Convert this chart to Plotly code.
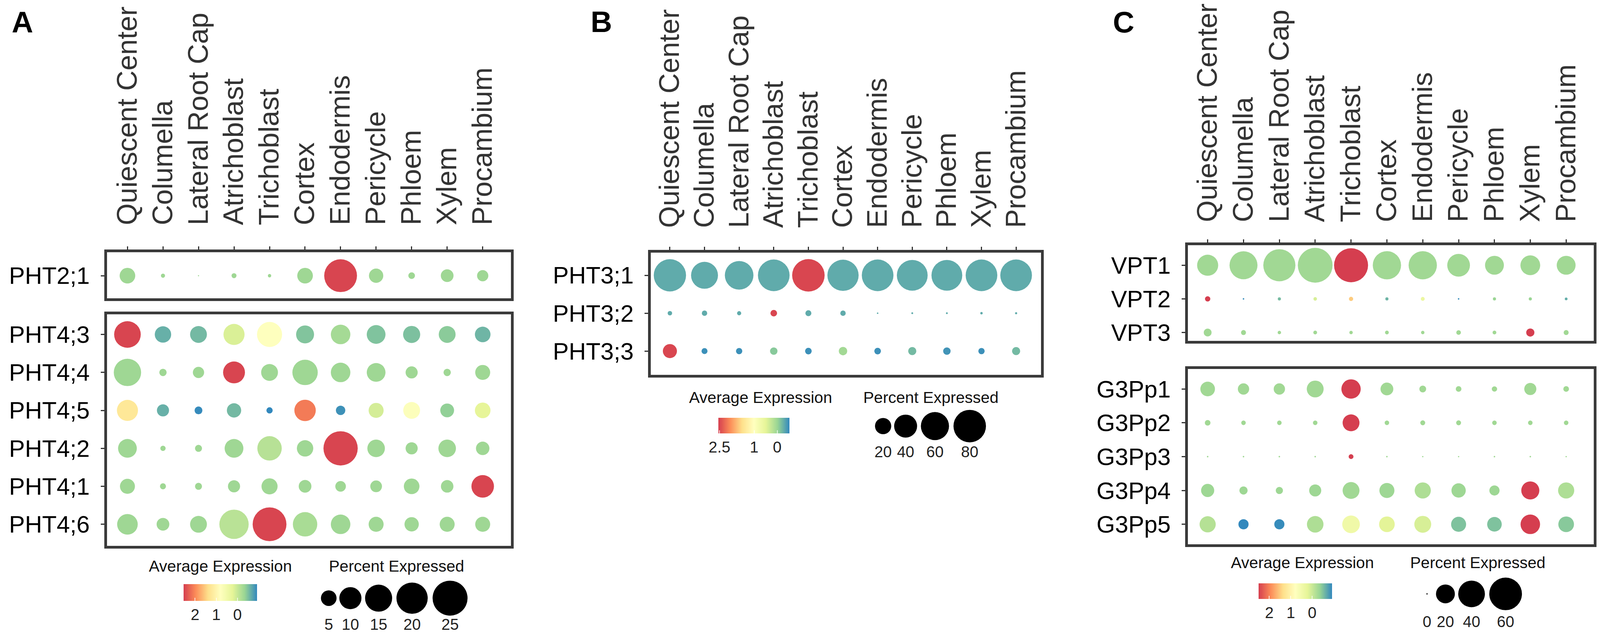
import plotly.graph_objects as go

W, H = 4410, 1634          # reference geometry (pixels) used for all placements
FONT = "Liberation Sans, Arial, Helvetica, sans-serif"
BOX = "#3a3a3a"
LW = 7

# ---------------- data ----------------
cell_types = ["Quiescent Center", "Columella", "Lateral Root Cap", "Atrichoblast",
              "Trichoblast", "Cortex", "Endodermis", "Pericycle", "Phloem", "Xylem",
              "Procambium"]

# Panel A (top block)
genes_A1 = ["PHT2;1"]
pct_A1 = [[5.0, 0.35, 0.03, 0.5, 0.23, 5.0, 22.0, 4.2, 0.9, 3.3, 2.6]]
avg_A1 = [[-0.3, -0.3, -0.3, -0.3, -0.3, -0.3, 2.5, -0.3, -0.3, -0.3, -0.3]]

# Panel A (bottom block)
genes_A2 = ["PHT4;3", "PHT4;4", "PHT4;5", "PHT4;2", "PHT4;1", "PHT4;6"]
pct_A2 = [
    [14.5, 5.5, 5.8, 9.1, 12.9, 6.6, 7.8, 7.2, 6.0, 5.8, 5.0],
    [15.3, 1.1, 2.6, 9.8, 5.8, 13.2, 7.8, 7.2, 3.0, 1.1, 4.6],
    [9.1, 3.0, 1.25, 4.2, 0.8, 9.4, 1.8, 4.6, 5.8, 3.9, 5.0],
    [7.2, 0.57, 1.0, 7.2, 12.2, 5.5, 24.0, 6.3, 3.0, 6.3, 3.7],
    [4.6, 0.74, 1.0, 3.0, 5.3, 3.3, 2.3, 2.8, 5.0, 3.2, 10.4],
    [8.7, 3.3, 5.8, 17.6, 23.4, 12.2, 7.8, 4.6, 4.2, 4.6, 4.6],
]
avg_A2 = [
    [2.5, -0.62, -0.55, 0.15, 0.8, -0.47, -0.25, -0.48, -0.5, -0.42, -0.58],
    [-0.3, -0.3, -0.3, 2.5, -0.3, -0.3, -0.3, -0.3, -0.3, -0.3, -0.3],
    [1.25, -0.62, -0.9, -0.55, -0.92, 2.1, -0.85, 0.1, 0.75, -0.38, 0.25],
    [-0.3, -0.3, -0.3, -0.3, -0.12, -0.3, 2.5, -0.3, -0.3, -0.3, -0.3],
    [-0.3, -0.3, -0.3, -0.3, -0.3, -0.3, -0.3, -0.3, -0.3, -0.3, 2.5],
    [-0.3, -0.3, -0.3, -0.1, 2.5, -0.22, -0.3, -0.3, -0.3, -0.3, -0.3],
]

# Panel B
genes_B = ["PHT3;1", "PHT3;2", "PHT3;3"]
pct_B = [
    [79, 55, 62, 76, 80, 74, 76, 72, 72, 76, 76],
    [1.5, 2.2, 1.3, 3.3, 2.7, 2.2, 0.17, 0.25, 0.25, 0.43, 0.33],
    [15, 2.7, 3.0, 4.2, 3.3, 5.3, 3.3, 5.0, 4.2, 3.0, 5.0],
]
avg_B = [
    [-0.3, -0.3, -0.3, -0.3, 2.5, -0.3, -0.3, -0.3, -0.3, -0.3, -0.3],
    [-0.3, -0.3, -0.3, 2.5, -0.3, -0.3, -0.3, -0.3, -0.3, -0.3, -0.3],
    [2.5, -0.48, -0.48, -0.1, -0.48, 0.05, -0.48, -0.2, -0.45, -0.48, -0.2],
]

# Panel C (top block)
genes_C1 = ["VPT1", "VPT2", "VPT3"]
pct_C1 = [
    [25, 44, 58, 68, 65, 45, 45, 29, 20, 22, 20],
    [1.6, 0.13, 0.55, 0.7, 1.0, 0.55, 0.85, 0.13, 0.55, 0.55, 0.42],
    [3.5, 1.4, 0.65, 0.8, 0.65, 0.8, 0.65, 1.2, 0.8, 3.8, 1.4],
]
avg_C1 = [
    [-0.3, -0.3, -0.3, -0.3, 2.5, -0.3, -0.3, -0.3, -0.3, -0.3, -0.3],
    [2.5, -0.9, -0.55, 0.1, 1.5, -0.6, 0.35, -0.9, -0.35, -0.35, -0.65],
    [-0.3, -0.3, -0.3, -0.3, -0.3, -0.3, -0.3, -0.3, -0.3, 2.5, -0.3],
]

# Panel C (bottom block)
genes_C2 = ["G3Pp1", "G3Pp2", "G3Pp3", "G3Pp4", "G3Pp5"]
pct_C2 = [
    [12, 7.2, 7.2, 16, 21, 9.2, 2.6, 1.8, 1.6, 8.2, 1.8],
    [1.8, 1.15, 1.15, 1.15, 16, 1.15, 1.35, 1.35, 1.15, 1.15, 1.15],
    [0.13, 0.13, 0.13, 0.13, 1.3, 0.13, 0.1, 0.1, 0.13, 0.13, 0.1],
    [9.7, 3.8, 2.9, 8.2, 16, 12.7, 14.7, 11.5, 5.8, 18.3, 14.7],
    [14.7, 5.8, 5.8, 15.4, 17.5, 13.8, 16, 12.7, 12, 21.4, 13.8],
]
avg_C2 = [
    [-0.3, -0.3, -0.3, -0.3, 2.5, -0.3, -0.3, -0.3, -0.3, -0.3, -0.3],
    [-0.3, -0.3, -0.3, -0.3, 2.5, -0.3, -0.3, -0.3, -0.3, -0.3, -0.3],
    [-0.3, -0.3, -0.3, -0.3, 2.5, -0.3, -0.3, -0.3, -0.3, -0.3, -0.3],
    [-0.32, -0.32, -0.32, -0.32, -0.3, -0.32, -0.2, -0.32, -0.32, 2.5, -0.2],
    [-0.15, -0.93, -0.9, -0.2, 0.45, 0.2, 0.1, -0.5, -0.5, 2.5, -0.45],
]

# legends
legend_pct_A = [5, 10, 15, 20, 25]
legend_pct_B = [20, 40, 60, 80]
legend_pct_C = [0, 20, 40, 60]
cbar_ticks_A = [2, 1, 0]
cbar_ticks_B = [2.5, 1, 0]
cbar_ticks_C = [2, 1, 0]
color_range_A = (-0.92, 2.55)
color_range_B = (-0.53, 2.55)
color_range_C = (-0.93, 2.5)

# Spectral palette, high expression (red) -> low expression (blue)
spectral = ["#D53E4F", "#FC8D59", "#FEE08B", "#FFFFBF", "#E6F598", "#99D594", "#3288BD"]
colorscale = [[i / (len(spectral) - 1), c] for i, c in enumerate(spectral)]

# size scale (diameter = k * sqrt(percent)) per panel -> plotly area sizeref
k_A, k_B, k_C = 17.9, 9.3, 10.8
sref = {"A": 2 / k_A ** 2, "B": 2 / k_B ** 2, "C": 2 / k_C ** 2}

# ---------------- layout geometry (pixels of the reference) ----------------
def xdom(l, r):
    return [(l + LW / 2) / W, (r - LW / 2) / W]

def ydom(t, b):
    return [1 - (b - LW / 2) / H, 1 - (t + LW / 2) / H]

def xrange_(l, r, c0, sp):
    return [((l + LW / 2) - c0) / sp, ((r - LW / 2) - c0) / sp]

def yrange_(t, b, r0, sp):
    return [((b - LW / 2) - r0) / sp, ((t + LW / 2) - r0) / sp]

fig = go.Figure()

def add_block(genes, pct, avg, xa, ya, coloraxis, sizeref):
    xs, ys, ss, cs = [], [], [], []
    for g, prow, arow in zip(genes, pct, avg):
        for ct, p, a in zip(cell_types, prow, arow):
            xs.append(ct)
            ys.append(g)
            ss.append(p)
            cs.append(-a)  # negated so the colorbar runs high (red) -> low (blue)
    fig.add_trace(go.Scatter(
        x=xs, y=ys, mode="markers", xaxis=xa, yaxis=ya,
        marker=dict(size=ss, sizemode="area", sizeref=sizeref, sizemin=0,
                    color=cs, coloraxis=coloraxis, line=dict(width=0), opacity=1),
        hoverinfo="skip", showlegend=False))

add_block(genes_A1, pct_A1, avg_A1, "x", "y", "coloraxis", sref["A"])
add_block(genes_A2, pct_A2, avg_A2, "x2", "y2", "coloraxis", sref["A"])
add_block(genes_B, pct_B, avg_B, "x3", "y3", "coloraxis2", sref["B"])
add_block(genes_C1, pct_C1, avg_C1, "x4", "y4", "coloraxis3", sref["C"])
add_block(genes_C2, pct_C2, avg_C2, "x5", "y5", "coloraxis3", sref["C"])

def xaxis(l, r, c0, sp, anchor, labels, standoff):
    d = dict(type="category", categoryorder="array", categoryarray=cell_types,
             domain=xdom(l, r), range=xrange_(l, r, c0, sp), anchor=anchor,
             showline=True, linewidth=LW, linecolor=BOX, mirror=True,
             showgrid=False, zeroline=False, fixedrange=True, side="top",
             automargin=False)
    if labels:
        d.update(ticks="outside", ticklen=8, tickwidth=3, tickcolor="#333333",
                 tickangle=-90, showticklabels=True,
                 tickfont=dict(family=FONT, size=72, color="#333333"),
                 ticklabelstandoff=standoff)
    else:
        d.update(ticks="", showticklabels=False)
    return d

def yaxis(t, b, r0, sp, anchor, genes):
    return dict(type="category", categoryorder="array", categoryarray=genes,
                domain=ydom(t, b), range=yrange_(t, b, r0, sp), anchor=anchor,
                showline=True, linewidth=LW, linecolor=BOX, mirror=True,
                showgrid=False, zeroline=False, fixedrange=True, automargin=False,
                ticks="outside", ticklen=9, tickwidth=3, tickcolor="#333333",
                tickfont=dict(family=FONT, size=61, color="#000000"),
                ticklabelstandoff=16)

fig.update_layout(
    xaxis=xaxis(284, 1409, 344, 98.3, "y", True, 40),
    yaxis=yaxis(641, 767, 705, 98.2, "x", genes_A1),
    xaxis2=xaxis(284, 1409, 344, 98.3, "y2", False, 0),
    yaxis2=yaxis(801, 1407, 857, 98.2, "x2", genes_A2),
    xaxis3=xaxis(1789, 2875, 1845, 95.8, "y3", True, 34),
    yaxis3=yaxis(642, 965, 704, 98.0, "x3", genes_B),
    xaxis4=xaxis(3275, 4405, 3333, 99.2, "y4", True, 30),
    yaxis4=yaxis(623, 877, 678, 87.0, "x4", genes_C1),
    xaxis5=xaxis(3275, 4405, 3333, 99.2, "y5", False, 0),
    yaxis5=yaxis(943, 1403, 998, 87.5, "x5", genes_C2),
    xaxis6=dict(domain=[0, 1], range=[0, W], visible=False, fixedrange=True, anchor="y6"),
    yaxis6=dict(domain=[0, 1], range=[H, 0], visible=False, fixedrange=True, anchor="x6"),
)

# ---------------- colour bars ----------------
def cbar(x_left, y_top, length, thick, ticks):
    return dict(orientation="h", xanchor="left", x=x_left / W, yanchor="top",
                y=1 - y_top / H, len=length / W, lenmode="fraction", thickness=thick,
                thicknessmode="pixels", outlinewidth=0, xpad=0, ypad=0,
                tickvals=[-t for t in ticks], ticktext=[f"{t:g}" for t in ticks],
                ticks="inside", ticklen=8, tickwidth=2, tickcolor="rgba(255,255,255,0.8)",
                tickfont=dict(family=FONT, size=40, color="#222222"))

fig.update_layout(
    coloraxis=dict(colorscale=colorscale, cmin=-color_range_A[1], cmax=-color_range_A[0],
                   colorbar=cbar(499, 1503, 203, 43, cbar_ticks_A)),
    coloraxis2=dict(colorscale=colorscale, cmin=-color_range_B[1], cmax=-color_range_B[0],
                    colorbar=cbar(1979, 1073, 197, 40, cbar_ticks_B)),
    coloraxis3=dict(colorscale=colorscale, cmin=-color_range_C[1], cmax=-color_range_C[0],
                    colorbar=cbar(3474, 1501, 203, 40, cbar_ticks_C)),
)

# ---------------- size legends ----------------
def size_legend(vals, k, sizeref, x_first, y_dot, y_lab):
    diam = [k * v ** 0.5 for v in vals]
    kw = [max(1.24 * d, 42) for d in diam]
    xs = [x_first]
    for i in range(1, len(vals)):
        xs.append(xs[-1] + (kw[i - 1] + kw[i]) / 2)
    fig.add_trace(go.Scatter(
        x=xs, y=[y_dot] * len(vals), mode="markers", xaxis="x6", yaxis="y6",
        marker=dict(size=[max(v, 0.1) for v in vals], sizemode="area", sizeref=sizeref,
                    color="#000000", opacity=1, line=dict(width=0)),
        hoverinfo="skip", showlegend=False))
    fig.add_trace(go.Scatter(
        x=xs, y=[y_lab] * len(vals), mode="text", xaxis="x6", yaxis="y6",
        text=[f"{v:g}" for v in vals],
        textfont=dict(family=FONT, size=40, color="#222222"),
        hoverinfo="skip", showlegend=False))

size_legend(legend_pct_A, k_A, sref["A"], 901, 1539, 1611)
size_legend(legend_pct_B, k_B, sref["B"], 2435, 1094, 1164)
size_legend(legend_pct_C, k_C, sref["C"], 3940, 1528, 1604)

# ---------------- annotations ----------------
def ann(text, x, y, size, bold=False, color="#111111"):
    return dict(text=f"<b>{text}</b>" if bold else text, x=x / W, y=1 - y / H,
                xref="paper", yref="paper", xanchor="center", yanchor="middle",
                showarrow=False, font=dict(family=FONT, size=size, color=color))

annotations = [
    ann("A", 53, 49, 76, bold=True, color="#000000"),
    ann("B", 1655, 48, 76, bold=True, color="#000000"),
    ann("C", 3100, 49, 76, bold=True, color="#000000"),
    ann("Average Expression", 601, 1456, 41),
    ann("Percent Expressed", 1088, 1456, 41),
    ann("Average Expression", 2096, 1020, 41),
    ann("Percent Expressed", 2567, 1020, 41),
    ann("Average Expression", 3595, 1447, 41),
    ann("Percent Expressed", 4080, 1447, 41),
]

# width follows the browser viewport so the whole figure is always visible
fig.update_layout(
    autosize=True, height=1618, margin=dict(l=0, r=0, t=0, b=0, pad=0),
    paper_bgcolor="white", plot_bgcolor="rgba(0,0,0,0)",
    showlegend=False, annotations=annotations,
    font=dict(family=FONT),
)

fig.write_html("out.html", config={"responsive": True})
